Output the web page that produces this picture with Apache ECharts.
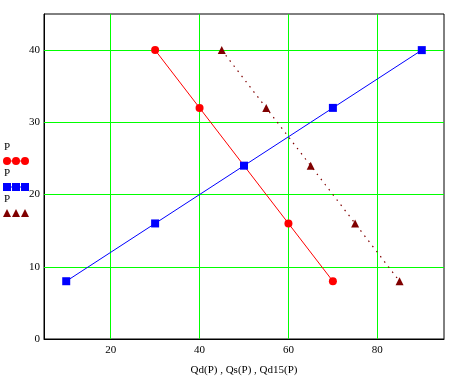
<!DOCTYPE html>
<html><head><meta charset="utf-8">
<script src="https://cdn.jsdelivr.net/npm/echarts@6/dist/echarts.min.js"></script>
<style>html,body{margin:0;padding:0;background:#fff}#c{width:459px;height:381px}</style>
</head><body><div id="c"></div>
<script>
// Data
var qdX = [30, 40, 60, 70];
var qdP = [40, 32, 16, 8];
var qsX = [10, 30, 50, 70, 90];
var qsP = [8, 16, 24, 32, 40];
var qd15X = [45, 55, 65, 75, 85];
var qd15P = [40, 32, 24, 16, 8];
var xTicks = [20, 40, 60, 80];
var yTicks = [0, 10, 20, 30, 40];
var xTitle = 'Qd(P) , Qs(P) , Qd15(P)';
var legendLabel = 'P';

function pairs(xs, ys) { return xs.map(function (x, i) { return [x, ys[i]]; }); }

var font = 'Liberation Serif';
var chart = echarts.init(document.getElementById('c'), null, {renderer: 'canvas'});
var gridLines = xTicks.map(function (v) { return {xAxis: v}; })
  .concat(yTicks.filter(function (v) { return v > 0; }).map(function (v) { return {yAxis: v}; }));

var legendItems = [
  {y: 149, color: '#ff0000', sym: 'circle'},
  {y: 175, color: '#0000ff', sym: 'rect'},
  {y: 201, color: '#800000', sym: 'tri'}
];
var graphics = [];
legendItems.forEach(function (it, k) {
  graphics.push({type: 'text', left: 4, top: it.y - 7, style: {text: legendLabel, font: '11px ' + font, fill: '#000'}});
  var my = it.y + 12;
  if (k < 2) graphics.push({type: 'line', shape: {x1: 6, y1: my, x2: 26, y2: my}, style: {stroke: it.color, lineWidth: 1}});
  [7, 16, 25].forEach(function (mx) {
    if (it.sym === 'circle') graphics.push({type: 'circle', shape: {cx: mx, cy: my, r: 4}, style: {fill: it.color}});
    else if (it.sym === 'rect') graphics.push({type: 'rect', shape: {x: mx - 4, y: my - 4, width: 8, height: 8}, style: {fill: it.color}});
    else graphics.push({type: 'polygon', shape: {points: [[mx, my - 4], [mx - 4, my + 4], [mx + 4, my + 4]]}, style: {fill: it.color}});
  });
});

chart.setOption({
  animation: false,
  backgroundColor: '#fff',
  grid: {left: 44, right: 15, top: 14, bottom: 38, show: true, borderColor: '#000', borderWidth: 1, z: 0},
  xAxis: {
    type: 'value', min: 5, max: 95,
    axisLine: {show: true, onZero: false, lineStyle: {color: '#000'}},
    axisTick: {show: false}, splitLine: {show: false},
    axisLabel: {customValues: xTicks, color: '#000', fontFamily: font, fontSize: 11, margin: 6},
    name: xTitle, nameLocation: 'middle', nameGap: 26,
    nameTextStyle: {color: '#000', fontFamily: font, fontSize: 11}
  },
  yAxis: {
    type: 'value', min: 0, max: 45,
    axisLine: {show: true, lineStyle: {color: '#000'}},
    axisTick: {show: false}, splitLine: {show: false},
    axisLabel: {customValues: yTicks, color: '#000', fontFamily: font, fontSize: 11, margin: 4}
  },
  graphic: graphics,
  series: [
    {type: 'line', data: [], z: 1, silent: true,
     markLine: {silent: true, z: 1, symbol: 'none', label: {show: false}, animation: false,
       lineStyle: {color: '#00ff00', width: 1, type: 'solid'}, data: gridLines}},
    {type: 'line', data: pairs(qdX, qdP), symbol: 'circle', symbolSize: 8, z: 3,
     itemStyle: {color: '#ff0000'}, lineStyle: {color: '#ff0000', width: 1}},
    {type: 'line', data: pairs(qsX, qsP), symbol: 'rect', symbolSize: 8, z: 4,
     itemStyle: {color: '#0000ff'}, lineStyle: {color: '#0000ff', width: 1}},
    {type: 'line', data: pairs(qd15X, qd15P), symbol: 'triangle', symbolSize: 8, z: 3,
     itemStyle: {color: '#800000'}, lineStyle: {color: '#800000', width: 1.2, type: [1.5, 5]}}
  ]
});
</script></body></html>
